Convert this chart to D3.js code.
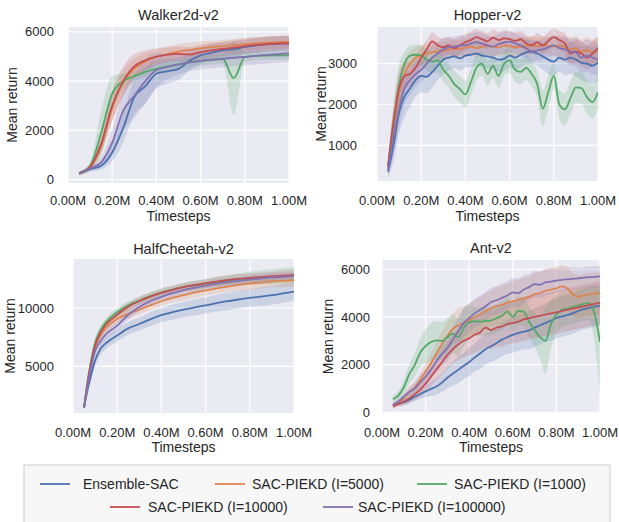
<!DOCTYPE html>
<html lang="en">
<head>
<meta charset="utf-8">
<title>Mean return curves</title>
<script src="https://cdnjs.cloudflare.com/ajax/libs/d3/7.8.5/d3.min.js"></script>
<style>
  body { margin: 0; background: #ffffff; }
  svg text { font-family: "Liberation Sans", Arial, Helvetica, sans-serif; fill: #262626; }
</style>
</head>
<body>
<div id="chart"></div>
<script>

// series order: Ensemble-SAC, I=5000, I=1000, I=10000, I=100000
var methods = ["Ensemble-SAC", "SAC-PIEKD (I=5000)", "SAC-PIEKD (I=1000)", "SAC-PIEKD (I=10000)", "SAC-PIEKD (I=100000)"];
var colors = ["#4c72b0", "#dd8452", "#55a868", "#c44e52", "#8172b3"];
var xTicks = [0, 0.2, 0.4, 0.6, 0.8, 1.0];
var xTickLabels = ["0.00M", "0.20M", "0.40M", "0.60M", "0.80M", "1.00M"];

// Walker2d-v2 (timesteps in millions)
var walkerSteps = [0.05, 0.10, 0.15, 0.20, 0.25, 0.30, 0.35, 0.40, 0.45, 0.50, 0.55, 0.60, 0.65, 0.70, 0.75, 0.80, 0.85, 0.90, 0.95, 1.00];
var walkerMean = [
  [250, 420, 560, 1100, 2100, 3350, 3800, 4300, 4400, 4500, 4830, 5050, 5150, 5250, 5300, 5380, 5440, 5490, 5520, 5540],
  [250, 500, 1350, 2900, 3950, 4500, 4800, 4980, 5100, 5200, 5270, 5330, 5380, 5420, 5460, 5500, 5530, 5560, 5580, 5600],
  [250, 550, 1900, 3500, 4000, 4200, 4380, 4500, 4600, 4680, 4760, 4820, 4870, 4900, 4120, 4980, 5030, 5040, 5050, 5050],
  [250, 520, 1450, 3000, 4000, 4600, 4850, 5000, 5080, 5110, 5080, 5180, 5250, 5310, 5360, 5420, 5470, 5510, 5530, 5540],
  [250, 450, 700, 1500, 2800, 3400, 4000, 4450, 4580, 4680, 4760, 4820, 4870, 4910, 4950, 4990, 5030, 5070, 5100, 5130]
];
var walkerSd = [
  [60, 100, 150, 350, 600, 700, 700, 600, 500, 450, 400, 350, 350, 300, 300, 300, 300, 300, 300, 300],
  [60, 100, 300, 500, 500, 400, 350, 300, 300, 300, 300, 280, 260, 250, 250, 250, 250, 250, 250, 250],
  [60, 150, 900, 700, 300, 200, 200, 200, 200, 200, 200, 200, 200, 200, 1500, 200, 180, 180, 180, 180],
  [60, 100, 300, 600, 600, 500, 400, 350, 300, 300, 300, 300, 300, 300, 300, 300, 300, 300, 300, 300],
  [60, 100, 200, 500, 800, 900, 900, 700, 500, 400, 350, 350, 350, 350, 350, 350, 350, 350, 350, 350]
];
var walkerTicks = [0, 2000, 4000, 6000];

// Hopper-v2
var hopperSteps = [0.05, 0.075, 0.1, 0.125, 0.15, 0.175, 0.2, 0.225, 0.25, 0.275, 0.3, 0.325, 0.35, 0.375, 0.4, 0.425, 0.45, 0.475, 0.5, 0.525,
  0.55, 0.575, 0.6, 0.625, 0.65, 0.675, 0.7, 0.725, 0.75, 0.775, 0.8, 0.825, 0.85, 0.875, 0.9, 0.925, 0.95, 0.975, 1.0];
var hopperMean = [
  [350, 1000, 1800, 2200, 2400, 2600, 2700, 2680, 2800, 2950, 3100, 3150, 3180, 3130, 3200, 3220, 3250, 3200, 3180, 3150,
   3100, 3120, 3200, 3150, 3220, 3280, 3300, 3250, 3180, 3100, 3050, 3150, 3100, 3150, 3100, 3020, 3000, 2950, 3030],
  [450, 1400, 2300, 2750, 3000, 3150, 3200, 3250, 3280, 3300, 3320, 3340, 3370, 3360, 3400, 3420, 3380, 3420, 3440, 3420,
   3400, 3450, 3430, 3400, 3420, 3440, 3450, 3430, 3460, 3440, 3420, 3450, 3400, 3350, 3380, 3300, 3330, 3280, 3320],
  [500, 1500, 2500, 3000, 3200, 3220, 3200, 3100, 3050, 3080, 2850, 2700, 2500, 2380, 2250, 2550, 2900, 3000, 2750, 2950,
   2700, 3000, 3080, 2850, 2800, 2900, 2750, 2500, 1900, 2300, 2700, 2000, 1880, 2150, 2420, 2400, 2180, 2060, 2300],
  [500, 1600, 2400, 2700, 2750, 2900, 3150, 3350, 3550, 3450, 3400, 3450, 3380, 3450, 3530, 3580, 3650, 3600, 3550, 3640,
   3580, 3620, 3600, 3560, 3600, 3500, 3450, 3530, 3450, 3560, 3650, 3580, 3500, 3250, 3300, 3250, 3150, 3250, 3380],
  [400, 1200, 1900, 2400, 2600, 2750, 2850, 3000, 3150, 3250, 3350, 3400, 3420, 3450, 3450, 3500, 3530, 3500, 3450, 3420,
   3480, 3520, 3540, 3500, 3440, 3380, 3300, 3320, 3350, 3400, 3450, 3380, 3350, 3300, 3280, 3150, 3200, 3150, 3100]
];
var hopperSd = [
  [150, 400, 500, 500, 450, 400, 400, 400, 380, 350, 350, 320, 300, 300, 300, 300, 300, 300, 300, 300,
   300, 300, 300, 300, 300, 300, 300, 300, 320, 350, 350, 350, 380, 400, 400, 420, 450, 450, 450],
  [150, 400, 400, 350, 300, 250, 250, 230, 220, 220, 220, 220, 220, 220, 220, 220, 220, 220, 220, 220,
   220, 220, 220, 220, 220, 220, 220, 220, 220, 220, 250, 250, 280, 300, 300, 300, 320, 320, 320],
  [150, 500, 500, 300, 250, 250, 250, 250, 280, 300, 300, 300, 320, 330, 330, 330, 320, 300, 300, 300,
   300, 300, 300, 300, 300, 300, 300, 320, 450, 400, 320, 350, 400, 400, 380, 380, 400, 400, 400],
  [150, 400, 400, 350, 300, 280, 250, 230, 220, 220, 220, 220, 220, 220, 200, 200, 200, 200, 200, 200,
   200, 200, 200, 200, 200, 200, 220, 220, 220, 220, 220, 220, 250, 280, 300, 300, 300, 300, 300],
  [150, 400, 450, 400, 350, 320, 300, 300, 300, 280, 280, 250, 250, 250, 250, 250, 250, 250, 250, 250,
   250, 250, 250, 250, 250, 250, 250, 250, 250, 250, 250, 280, 300, 320, 350, 380, 400, 400, 400]
];
var hopperTicks = [1000, 2000, 3000];

// HalfCheetah-v2
var cheetahSteps = [0.05, 0.065, 0.08, 0.1, 0.125, 0.15, 0.2, 0.25, 0.3, 0.35, 0.4, 0.45, 0.5, 0.55, 0.6, 0.65, 0.7, 0.75, 0.8, 0.85, 0.9, 0.95, 1.0];
var cheetahMean = [
  [1450, 2900, 4100, 5500, 6500, 7000, 7650, 8250, 8630, 9030, 9390, 9640, 9860, 10050, 10230, 10410, 10580, 10730, 10870, 10980, 11100, 11250, 11400],
  [1450, 3400, 4950, 6600, 7650, 8300, 9070, 9510, 9850, 10230, 10580, 10870, 11100, 11340, 11510, 11690, 11830, 11980, 12090, 12180, 12270, 12330, 12380],
  [1450, 3600, 5300, 7000, 8100, 8800, 9650, 10230, 10640, 11020, 11340, 11580, 11800, 11950, 12090, 12240, 12380, 12470, 12560, 12620, 12670, 12730, 12790],
  [1450, 3500, 5100, 6800, 7900, 8600, 9420, 10100, 10600, 10980, 11300, 11560, 11790, 11960, 12120, 12260, 12390, 12490, 12580, 12650, 12710, 12770, 12820],
  [1450, 3200, 4700, 6310, 7180, 7760, 8490, 9420, 10090, 10580, 10960, 11280, 11540, 11740, 11920, 12090, 12210, 12330, 12440, 12530, 12620, 12670, 12730]
];
var cheetahSd = [
  [150, 300, 400, 500, 500, 500, 500, 550, 550, 600, 600, 650, 650, 700, 700, 700, 750, 750, 750, 800, 800, 800, 800],
  [150, 300, 400, 400, 400, 400, 400, 400, 400, 400, 400, 400, 450, 450, 450, 450, 450, 500, 500, 500, 500, 550, 550],
  [150, 300, 400, 400, 400, 350, 350, 350, 350, 350, 350, 350, 350, 400, 400, 450, 450, 500, 550, 600, 650, 700, 700],
  [150, 300, 400, 400, 400, 350, 350, 350, 350, 350, 350, 350, 350, 350, 350, 400, 400, 400, 400, 400, 400, 450, 450],
  [150, 300, 400, 400, 400, 400, 400, 400, 350, 350, 350, 350, 350, 350, 350, 350, 350, 350, 350, 350, 350, 350, 350]
];
var cheetahTicks = [5000, 10000];

// Ant-v2
var antSteps = [0.05, 0.075, 0.1, 0.125, 0.15, 0.175, 0.2, 0.225, 0.25, 0.275, 0.3, 0.325, 0.35, 0.375, 0.4, 0.425, 0.45, 0.475, 0.5, 0.525,
  0.55, 0.575, 0.6, 0.625, 0.65, 0.675, 0.7, 0.725, 0.75, 0.775, 0.8, 0.825, 0.85, 0.875, 0.9, 0.925, 0.95, 0.975, 1.0];
var antMean = [
  [300, 350, 420, 520, 650, 770, 880, 980, 1080, 1250, 1450, 1620, 1780, 1950, 2110, 2300, 2470, 2650, 2770, 2900,
   3050, 3150, 3250, 3320, 3380, 3440, 3550, 3650, 3750, 3850, 3950, 4020, 4080, 4150, 4250, 4330, 4380, 4430, 4480],
  [300, 420, 600, 850, 1050, 1350, 1700, 2050, 2450, 2850, 3200, 3500, 3650, 3750, 3850, 4000, 4100, 4250, 4350, 4450,
   4500, 4600, 4650, 4720, 4780, 4850, 4950, 5000, 5100, 5150, 5200, 5280, 5200, 4950, 4850, 4900, 4950, 4980, 5000],
  [550, 700, 1050, 1600, 1980, 2500, 2780, 2950, 3020, 3000, 3150, 3300, 3150, 3550, 3780, 3820, 3800, 3830, 3850, 3950,
   4050, 4230, 4000, 4250, 4220, 3800, 3450, 3150, 3000, 3700, 4100, 4300, 4350, 4420, 4480, 4550, 4580, 4150, 2950],
  [250, 350, 450, 580, 750, 950, 1200, 1500, 1800, 2100, 2400, 2650, 2850, 3000, 3100, 3250, 3350, 3550, 3450, 3550,
   3600, 3700, 3750, 3800, 3900, 3950, 4000, 4050, 4100, 4150, 4200, 4250, 4300, 4350, 4400, 4450, 4500, 4550, 4600],
  [300, 450, 650, 850, 1000, 1250, 1500, 1800, 2150, 2450, 2700, 3050, 3400, 3750, 3950, 4150, 4300, 4450, 4620, 4700,
   4800, 4900, 5030, 5000, 5150, 5250, 5380, 5350, 5450, 5480, 5530, 5560, 5580, 5600, 5620, 5650, 5670, 5680, 5700]
];
var antSd = [
  [100, 100, 120, 150, 180, 200, 250, 300, 350, 400, 450, 500, 550, 550, 600, 600, 650, 650, 650, 700,
   700, 700, 750, 750, 750, 800, 800, 800, 800, 850, 850, 850, 850, 850, 850, 850, 850, 850, 850],
  [100, 120, 150, 200, 250, 300, 400, 450, 500, 550, 600, 650, 700, 700, 700, 700, 750, 750, 750, 800,
   800, 800, 850, 850, 850, 850, 900, 900, 900, 900, 900, 900, 900, 900, 900, 900, 900, 900, 900],
  [150, 200, 300, 400, 500, 600, 700, 800, 800, 800, 800, 800, 800, 800, 700, 600, 600, 600, 600, 600,
   600, 600, 600, 600, 600, 650, 700, 900, 1400, 1000, 800, 700, 700, 700, 700, 700, 700, 1200, 2200],
  [100, 120, 150, 200, 250, 300, 350, 400, 450, 500, 550, 600, 650, 700, 700, 750, 750, 800, 800, 800,
   850, 850, 850, 850, 900, 900, 900, 900, 900, 900, 900, 900, 900, 900, 900, 900, 900, 900, 900],
  [100, 120, 150, 200, 250, 300, 350, 400, 450, 500, 550, 550, 600, 600, 600, 600, 600, 600, 600, 600,
   600, 600, 600, 600, 600, 550, 550, 550, 550, 550, 500, 500, 500, 500, 450, 450, 450, 450, 450]
];
var antTicks = [0, 2000, 4000, 6000];

// panel layout (pixel boxes)
var panels = [
  {title: "Walker2d-v2", steps: walkerSteps, mean: walkerMean, sd: walkerSd, ticks: walkerTicks,
   yDomain: [-140, 6200], x0: 68, x1: 289, y0: 27, y1: 183, tickRight: 54, yLabelX: 17, titleY: 19.5, xTickY: 205, xLabelY: 221},
  {title: "Hopper-v2", steps: hopperSteps, mean: hopperMean, sd: hopperSd, ticks: hopperTicks,
   yDomain: [125, 3900], x0: 377, x1: 598, y0: 27, y1: 181, tickRight: 357, yLabelX: 326, titleY: 19.5, xTickY: 205, xLabelY: 221},
  {title: "HalfCheetah-v2", steps: cheetahSteps, mean: cheetahMean, sd: cheetahSd, ticks: cheetahTicks,
   yDomain: [1000, 14200], x0: 73, x1: 294, y0: 259, y1: 413, tickRight: 54, yLabelX: 15, titleY: 253.5, xTickY: 437, xLabelY: 452},
  {title: "Ant-v2", steps: antSteps, mean: antMean, sd: antSd, ticks: antTicks,
   yDomain: [-30, 6390], x0: 382, x1: 600, y0: 260, y1: 413, tickRight: 370, yLabelX: 333, titleY: 253, xTickY: 437, xLabelY: 452}
];

var svg = d3.select("#chart").append("svg")
  .attr("width", 619)
  .attr("height", 522);

panels.forEach(function (p, pi) {
  var x = d3.scaleLinear().domain([0, 1]).range([p.x0, p.x1]);
  var y = d3.scaleLinear().domain(p.yDomain).range([p.y1, p.y0]);
  var g = svg.append("g");

  g.append("clipPath").attr("id", "clip" + pi)
    .append("rect")
    .attr("x", p.x0).attr("y", p.y0)
    .attr("width", p.x1 - p.x0).attr("height", p.y1 - p.y0);

  g.append("rect")
    .attr("x", p.x0).attr("y", p.y0)
    .attr("width", p.x1 - p.x0).attr("height", p.y1 - p.y0)
    .attr("fill", "#eaeaf2");

  // white grid
  g.selectAll(".vgrid").data(xTicks).enter().append("line")
    .attr("x1", function (d) { return x(d); })
    .attr("x2", function (d) { return x(d); })
    .attr("y1", p.y0).attr("y2", p.y1)
    .attr("stroke", "#ffffff").attr("stroke-width", 1.2);
  g.selectAll(".hgrid").data(p.ticks).enter().append("line")
    .attr("x1", p.x0).attr("x2", p.x1)
    .attr("y1", function (d) { return y(d); })
    .attr("y2", function (d) { return y(d); })
    .attr("stroke", "#ffffff").attr("stroke-width", 1.2);

  var plot = g.append("g").attr("clip-path", "url(#clip" + pi + ")");

  var area = d3.area()
    .x(function (d) { return x(d.t); })
    .y0(function (d) { return y(d.m - d.s); })
    .y1(function (d) { return y(d.m + d.s); })
    .curve(d3.curveMonotoneX);
  var line = d3.line()
    .x(function (d) { return x(d.t); })
    .y(function (d) { return y(d.m); })
    .curve(d3.curveMonotoneX);

  var series = p.mean.map(function (m, k) {
    return p.steps.map(function (t, i) { return {t: t, m: m[i], s: p.sd[k][i]}; });
  });

  plot.selectAll(".band").data(series).enter().append("path")
    .attr("d", area)
    .attr("fill", function (d, k) { return colors[k]; })
    .attr("fill-opacity", 0.2)
    .attr("stroke", "none");

  plot.selectAll(".curve").data(series).enter().append("path")
    .attr("d", line)
    .attr("fill", "none")
    .attr("stroke", function (d, k) { return colors[k]; })
    .attr("stroke-width", 1.8)
    .attr("stroke-linejoin", "round");

  // tick labels
  g.selectAll(".ytick").data(p.ticks).enter().append("text")
    .attr("x", p.tickRight)
    .attr("y", function (d) { return y(d); })
    .attr("dy", "0.35em")
    .attr("text-anchor", "end")
    .style("font-size", "13px")
    .text(function (d) { return d; });
  g.selectAll(".xtick").data(xTicks).enter().append("text")
    .attr("x", function (d) { return x(d); })
    .attr("y", p.xTickY)
    .attr("text-anchor", "middle")
    .style("font-size", "13px")
    .text(function (d, i) { return xTickLabels[i]; });

  g.append("text")
    .attr("x", (p.x0 + p.x1) / 2)
    .attr("y", p.titleY)
    .attr("text-anchor", "middle")
    .style("font-size", "14.5px")
    .text(p.title);

  g.append("text")
    .attr("x", (p.x0 + p.x1) / 2)
    .attr("y", p.xLabelY)
    .attr("text-anchor", "middle")
    .style("font-size", "14px")
    .text("Timesteps");

  g.append("text")
    .attr("transform", "translate(" + p.yLabelX + "," + ((p.y0 + p.y1) / 2) + ") rotate(-90)")
    .attr("text-anchor", "middle")
    .style("font-size", "14px")
    .text("Mean return");
});

// legend
var legendPos = [
  {lx: 40, tx: 83, y: 484},
  {lx: 215, tx: 252, y: 484},
  {lx: 417, tx: 454, y: 484},
  {lx: 110, tx: 148, y: 507},
  {lx: 323, tx: 358, y: 507}
];

svg.append("rect")
  .attr("x", 24).attr("y", 465)
  .attr("width", 586).attr("height", 70)
  .attr("fill", "#f7f7f7")
  .attr("stroke", "#cccccc")
  .attr("stroke-width", 1);

var leg = svg.selectAll(".leg").data(methods).enter().append("g");
leg.append("line")
  .attr("x1", function (d, i) { return legendPos[i].lx; })
  .attr("x2", function (d, i) { return legendPos[i].lx + 30; })
  .attr("y1", function (d, i) { return legendPos[i].y; })
  .attr("y2", function (d, i) { return legendPos[i].y; })
  .attr("stroke", function (d, i) { return colors[i]; })
  .attr("stroke-width", 1.8);
leg.append("text")
  .attr("x", function (d, i) { return legendPos[i].tx; })
  .attr("y", function (d, i) { return legendPos[i].y; })
  .attr("dy", "0.35em")
  .style("font-size", "14px")
  .text(function (d) { return d; });
</script>
</body>
</html>
